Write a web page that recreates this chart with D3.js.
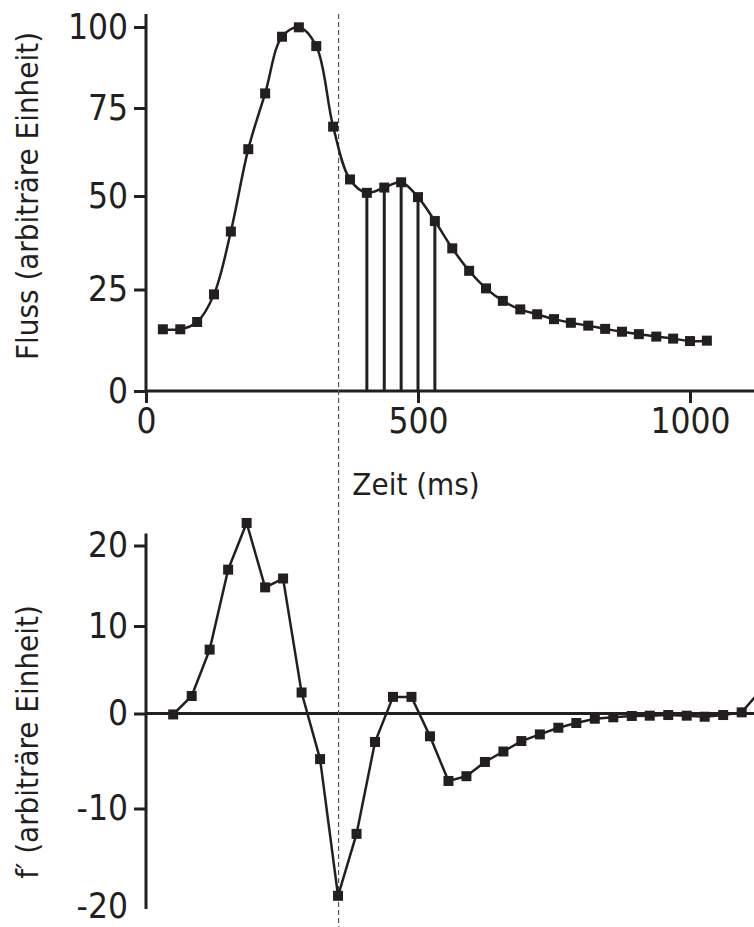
<!DOCTYPE html>
<html>
<head>
<meta charset="utf-8">
<script src="https://cdn.jsdelivr.net/npm/d3@7"></script>
<style>
body { margin: 0; background: #fff; }
text { font-family: "DejaVu Sans Condensed", "DejaVu Sans", Verdana, sans-serif; fill: #231f20; }
</style>
</head>
<body>
<div id="figure"></div>
<script>
// Flow curve (top panel)
var flowTimes = [31, 63, 94, 125, 156, 188, 219, 250, 281, 313, 344, 375, 406, 438, 469, 500, 531,
	563, 594, 625, 656, 688, 719, 750, 781, 813, 844, 875, 906, 938, 969, 1000, 1031];
var flowValues = [15.2, 15.2, 17.0, 23.8, 40.5, 63.3, 79.5, 97.0, 99.9, 94.1, 69.7, 54.7, 50.9, 52.4, 53.9, 49.7, 43.3,
	36.0, 30.0, 25.3, 22.2, 20.1, 18.9, 17.7, 16.8, 16.1, 15.3, 14.6, 14.0, 13.4, 12.9, 12.3, 12.4];
var stemTimes = [406, 438, 469, 500, 531];

// Derivative (bottom panel)
var derivTimes = [50, 84, 117, 151, 185, 219, 252, 286, 320, 353, 387, 421, 454, 488, 522, 556, 589,
	623, 657, 690, 724, 758, 791, 825, 859, 893, 926, 960, 994, 1027, 1061, 1095, 1128];
var derivValues = [-0.1, 2.0, 7.3, 17.0, 22.8, 14.8, 15.9, 2.4, -4.8, -18.6, -12.5, -3.0, 1.9, 1.9, -2.4, -7.1, -6.6,
	-5.1, -4.0, -2.9, -2.2, -1.5, -1.0, -0.55, -0.4, -0.26, -0.23, -0.16, -0.23, -0.34, -0.16, 0.13, 2.5];

var timeTicks = [0, 500, 1000];
var flowTicks = [0, 25, 50, 75, 100];
var derivTicks = [-20, -10, 0, 10, 20];
var markerTime = 354;

var w = 754;
var h = 927;
var ink = '#231f20';
var sq = 10;
var fontFam = '"DejaVu Sans Condensed", "DejaVu Sans", Verdana, sans-serif';

var svg = d3.select('#figure')
	.append('svg')
	.attr('width', w)
	.attr('height', h);

// scales (the source figure has slightly uneven vertical spacing, so piecewise ranges)
var xScale = d3.scaleLinear()
	.domain([0, 1000])
	.range([146, 690]);

var yTop = d3.scaleLinear()
	.domain(flowTicks)
	.range([391, 289.5, 196, 108, 27]);

var yBot = d3.scaleLinear()
	.domain(derivTicks)
	.range([910, 808.5, 713.5, 626, 545.5]);

function plain(d){
	return String(d);
}

function styleAxis(g){
	g.select('.domain').remove();
	g.selectAll('.tick line')
		.attr('stroke', ink)
		.attr('stroke-width', 3);
	g.selectAll('.tick text')
		.attr('font-size', 35)
		.attr('font-family', fontFam)
		.attr('fill', ink);
}

//Top panel axes
svg.append('g')
	.attr('transform', 'translate(' + xScale(0) + ',0)')
	.call(d3.axisLeft(yTop).tickValues(flowTicks).tickFormat(plain).tickSize(12).tickPadding(6))
	.call(styleAxis);

svg.append('g')
	.attr('transform', 'translate(0,' + yTop(0) + ')')
	.call(d3.axisBottom(xScale).tickValues(timeTicks).tickFormat(plain).tickSize(12).tickPadding(5))
	.call(styleAxis);

svg.append('line')
	.attr('x1', xScale(0)).attr('x2', xScale(0))
	.attr('y1', yTop(0)).attr('y2', yTop(104))
	.attr('stroke', ink).attr('stroke-width', 3);

svg.append('line')
	.attr('x1', xScale(0)).attr('x2', w)
	.attr('y1', yTop(0)).attr('y2', yTop(0))
	.attr('stroke', ink).attr('stroke-width', 3);

//Bottom panel axes
var botAxis = svg.append('g')
	.attr('transform', 'translate(' + xScale(0) + ',0)')
	.call(d3.axisLeft(yBot).tickValues(derivTicks).tickFormat(plain).tickSize(12).tickPadding(6))
	.call(styleAxis);

var lowTick = botAxis.selectAll('.tick')
	.filter(function(d){ return d === -20; });
lowTick.select('line').remove();
lowTick.select('text').attr('y', -4);

svg.append('line')
	.attr('x1', xScale(0)).attr('x2', xScale(0))
	.attr('y1', yBot(-19.9)).attr('y2', yBot(21.5))
	.attr('stroke', ink).attr('stroke-width', 3);

svg.append('line')
	.attr('x1', xScale(0)).attr('x2', w)
	.attr('y1', yBot(0)).attr('y2', yBot(0))
	.attr('stroke', ink).attr('stroke-width', 3);

//Dashed marker across both panels
svg.append('line')
	.attr('x1', xScale(markerTime)).attr('x2', xScale(markerTime))
	.attr('y1', yTop(104)).attr('y2', h)
	.attr('stroke', '#555')
	.attr('stroke-width', 1.2)
	.attr('stroke-dasharray', '5,3');

//Stems
var flowPts = flowTimes.map(function(t, i){ return {t: t, v: flowValues[i]}; });
var stems = flowPts.filter(function(d){ return stemTimes.indexOf(d.t) > -1; });

svg.append('g')
	.selectAll('line')
	.data(stems)
	.enter()
	.append('line')
	.attr('x1', function(d){ return xScale(d.t); })
	.attr('x2', function(d){ return xScale(d.t); })
	.attr('y1', function(d){ return yTop(d.v); })
	.attr('y2', yTop(0))
	.attr('stroke', ink)
	.attr('stroke-width', 3);

//Flow curve
var flowLine = d3.line()
	.x(function(d){ return xScale(d.t); })
	.y(function(d){ return yTop(d.v); })
	.curve(d3.curveCatmullRom.alpha(0.5));

svg.append('path')
	.datum(flowPts)
	.attr('d', flowLine)
	.attr('fill', 'none')
	.attr('stroke', ink)
	.attr('stroke-width', 2.5);

svg.append('g')
	.selectAll('rect')
	.data(flowPts)
	.enter()
	.append('rect')
	.attr('x', function(d){ return xScale(d.t) - sq / 2; })
	.attr('y', function(d){ return yTop(d.v) - sq / 2; })
	.attr('width', sq)
	.attr('height', sq)
	.attr('fill', ink);

//Derivative
var derivPts = derivTimes.map(function(t, i){ return {t: t, v: derivValues[i]}; });

var derivLine = d3.line()
	.x(function(d){ return xScale(d.t); })
	.y(function(d){ return yBot(d.v); });

svg.append('path')
	.datum(derivPts)
	.attr('d', derivLine)
	.attr('fill', 'none')
	.attr('stroke', ink)
	.attr('stroke-width', 2.5);

svg.append('g')
	.selectAll('rect')
	.data(derivPts)
	.enter()
	.append('rect')
	.attr('x', function(d){ return xScale(d.t) - sq / 2; })
	.attr('y', function(d){ return yBot(d.v) - sq / 2; })
	.attr('width', sq)
	.attr('height', sq)
	.attr('fill', ink);

//Axis titles
svg.append('text')
	.attr('transform', 'translate(38,' + 196 + ') rotate(-90)')
	.attr('text-anchor', 'middle')
	.attr('font-size', 31)
	.text('Fluss (arbiträre Einheit)');

svg.append('text')
	.attr('transform', 'translate(38,' + 742 + ') rotate(-90)')
	.attr('text-anchor', 'middle')
	.attr('font-size', 31)
	.text('f′ (arbiträre Einheit)');

svg.append('text')
	.attr('x', xScale(500) - 2)
	.attr('y', 495)
	.attr('text-anchor', 'middle')
	.attr('font-size', 31)
	.text('Zeit (ms)');
</script>
</body>
</html>
